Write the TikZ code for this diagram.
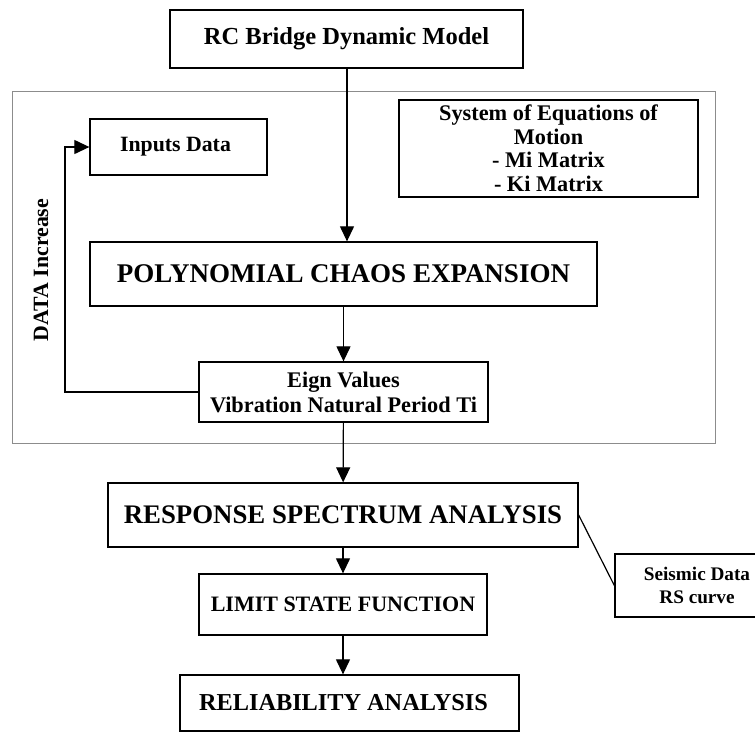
\documentclass[tikz,border=0pt]{standalone}
\usepackage{fontspec}
\setmainfont{Liberation Serif}
\usetikzlibrary{arrows.meta}
\tikzset{
  box/.style={draw=black, line width=1.3pt, fill=white, inner sep=0pt, align=center, font=\bfseries},
  flow/.style={line width=1.2pt, -{Triangle[length=15pt,width=14pt]}},
  plain/.style={line width=1.2pt},
  frame/.style={draw=black!45, line width=1pt}
}
\begin{document}
\begin{tikzpicture}[x=1pt,y=-1pt]
  \clip (0,0) rectangle (755,732);
  \fill[white] (0,0) rectangle (755,732);
  % outer frame around the modelling stage
  \draw[frame] (12,91) rectangle (715,443);

  \node[box, minimum width=353pt, minimum height=58pt, font=\bfseries\fontsize{24.5}{28}\selectfont] (model) at (346.5,39) {RC Bridge Dynamic Model};
  \node[box, minimum width=177pt, minimum height=56pt, font=\bfseries\fontsize{21.8}{25}\selectfont] (inputs) at (178.5,147) {\hspace*{-6pt}Inputs Data};
  \node[box, minimum width=299pt, minimum height=97pt, font=\bfseries\fontsize{22.3}{23.5}\selectfont] (eqs) at (548.5,148.5) {System of Equations of\\Motion\\- Mi Matrix\\- Ki Matrix};
  \node[box, minimum width=507pt, minimum height=64pt, font=\bfseries\fontsize{27}{30}\selectfont] (pce) at (343.5,274) {POLYNOMIAL CHAOS EXPANSION};
  \node[box, minimum width=289pt, minimum height=60pt, font=\bfseries\fontsize{22.3}{25}\selectfont] (eig) at (343.5,392) {Eign Values\\Vibration Natural Period Ti};
  \node[box, minimum width=470pt, minimum height=64pt, font=\bfseries\fontsize{26.8}{30}\selectfont] (rsa) at (343,515) {RESPONSE SPECTRUM ANALYSIS};
  \node[box, minimum width=288pt, minimum height=61pt, font=\bfseries\fontsize{22}{25}\selectfont] (lsf) at (343,604.5) {LIMIT STATE FUNCTION};
  \node[box, minimum width=339pt, minimum height=56pt, font=\bfseries\fontsize{24.3}{28}\selectfont] (rel) at (349.5,703) {\hspace*{-12pt}RELIABILITY ANALYSIS};
  \node[box, minimum width=164pt, minimum height=63pt, font=\bfseries\fontsize{19.2}{23}\selectfont] (seis) at (697,585.5) {Seismic Data\\RS curve};

  \node[rotate=90, font=\bfseries\fontsize{21.8}{25}\selectfont] (incr) at (41,270) {DATA Increase};

  % main flow
  \draw[flow] (model.south -| 347,0) -- (pce.north -| 347,0);
  \draw[flow] (pce) -- (eig);
  \draw[flow] (eig) -- (rsa);
  \draw[flow] (rsa) -- (lsf);
  \draw[flow] (lsf.south -| 343,0) -- (rel.north -| 343,0);
  % feedback loop
  \coordinate (loopB) at (65,392);
  \coordinate (loopT) at (65,147);
  \draw[flow] (eig.west) -- (loopB) -- (loopT) -- (inputs.west);
  % seismic input link
  \draw[plain] (rsa.east) -- (seis.west);
\end{tikzpicture}
\end{document}
